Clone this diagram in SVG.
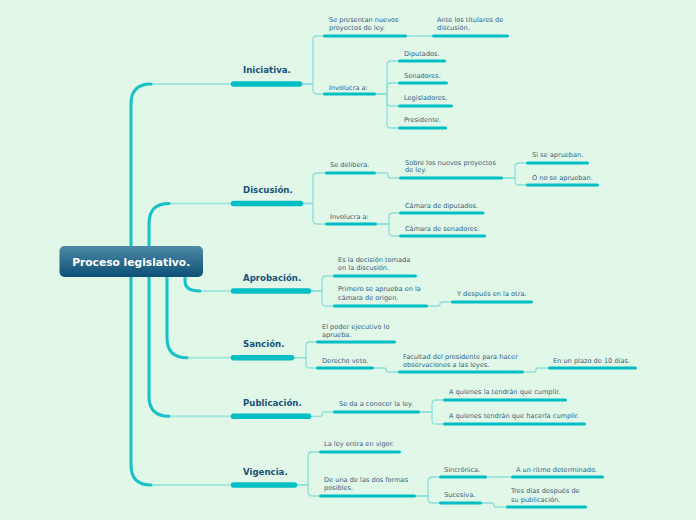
<svg xmlns="http://www.w3.org/2000/svg" width="696" height="520" viewBox="0 0 696 520">
<defs>
<linearGradient id="cg" x1="0" y1="0" x2="0" y2="1">
<stop offset="0" stop-color="#4f89a6"/>
<stop offset="1" stop-color="#0c5077"/>
</linearGradient>
</defs>
<style>
.trunk{fill:none;stroke:#16c1c7;stroke-width:3;stroke-linecap:round}
.mh{fill:none;stroke:#a2e8df;stroke-width:2;stroke-linecap:round}
.c{fill:none;stroke:#8ddfd9;stroke-width:1.3;stroke-linecap:round}
.mb{stroke:#00bec4;stroke-width:5.5;stroke-linecap:round}
.sb{stroke:#00bec4;stroke-width:3;stroke-linecap:round}
.mt{font-family:"DejaVu Sans",Verdana,sans-serif;font-weight:bold;font-size:8.6px;fill:#17527a}
.st{font-family:"DejaVu Sans",Verdana,sans-serif;font-size:6.6px;fill:#33637f}
.ct{font-family:"DejaVu Sans",Verdana,sans-serif;font-weight:bold;font-size:10.7px;fill:#ffffff}
</style>
<rect width="696" height="520" fill="#e1f7e8"/>
<g id="connectors">
<path class="mh" d="M151 84 H231"/>
<path class="mh" d="M169 203.5 H231"/>
<path class="mh" d="M200 291 H231"/>
<path class="mh" d="M187 357.7 H231"/>
<path class="mh" d="M169 416.3 H231"/>
<path class="mh" d="M151 485 H231"/>
<path class="trunk" d="M131 262 V104 Q131 84 151 84"/>
<path class="trunk" d="M149 262 V223.5 Q149 203.5 169 203.5"/>
<path class="trunk" d="M185 272 V281 Q185 291 200 291"/>
<path class="trunk" d="M167 262 V337.7 Q167 357.7 187 357.7"/>
<path class="trunk" d="M149 262 V396.3 Q149 416.3 169 416.3"/>
<path class="trunk" d="M131 262 V465 Q131 485 151 485"/>
<!-- Iniciativa -->
<path class="c" d="M302 84 H313 V40 Q313 36 317 36 H323"/>
<path class="c" d="M302 84 H313 V90 Q313 94 317 94 H323"/>
<path class="c" d="M407 36 H432"/>
<path class="c" d="M376 94 H387 V65 Q387 61 391 61 H398"/>
<path class="c" d="M376 94 H387 V87 Q387 83 391 83 H398"/>
<path class="c" d="M376 94 H387 V102 Q387 106 391 106 H398"/>
<path class="c" d="M376 94 H387 V124 Q387 128 391 128 H398"/>
<!-- Discusion -->
<path class="c" d="M303 203.5 H313 V177 Q313 173 317 173 H325"/>
<path class="c" d="M303 203.5 H313 V220 Q313 224 317 224 H325"/>
<path class="c" d="M376 173 H386 Q388 173 388 175.5 Q388 178 390 178 H399"/>
<path class="c" d="M503 178 H515 V167 Q515 163 519 163 H526"/>
<path class="c" d="M503 178 H515 V181 Q515 185 519 185 H526"/>
<path class="c" d="M377 224 H389 V217 Q389 213 393 213 H399"/>
<path class="c" d="M377 224 H389 V232 Q389 236 393 236 H399"/>
<!-- Aprobacion -->
<path class="c" d="M311 291 H322 V280 Q322 276 326 276 H333"/>
<path class="c" d="M311 291 H322 V302 Q322 306 326 306 H333"/>
<path class="c" d="M428 306 H438 Q440 306 440 304 Q440 302 442 302 H451"/>
<!-- Sancion -->
<path class="c" d="M294 357.7 H306 V346 Q306 342 310 342 H316"/>
<path class="c" d="M294 357.7 H306 V364 Q306 368 310 368 H316"/>
<path class="c" d="M374 368 H384 Q386 368 386 370 Q386 372 388 372 H398"/>
<path class="c" d="M524 372 H534 Q536 372 536 370 Q536 368 538 368 H548"/>
<!-- Publicacion -->
<path class="c" d="M311 416.3 H320 Q322 416.3 322 414 Q322 412 324 412 H333"/>
<path class="c" d="M420 412 H432 V404 Q432 400 436 400 H443"/>
<path class="c" d="M420 412 H432 V420 Q432 424 436 424 H443"/>
<!-- Vigencia -->
<path class="c" d="M297 485 H308 V456 Q308 452 312 452 H319"/>
<path class="c" d="M297 485 H308 V492 Q308 496 312 496 H319"/>
<path class="c" d="M416 496 H428 V481 Q428 477 432 477 H439"/>
<path class="c" d="M416 496 H428 V499 Q428 503 432 503 H439"/>
<path class="c" d="M487 477 H511"/>
<path class="c" d="M482 503 H492 Q494 503 494 505 Q494 507 496 507 H506"/>
</g>
<g id="root">
<rect x="59.5" y="246" width="143.5" height="31" rx="5" fill="url(#cg)"/>
<text class="ct" x="131.2" y="266.3" text-anchor="middle">Proceso legislativo.</text>
</g>
<g id="iniciativa">
<line class="mb" x1="233.5" y1="84" x2="299.5" y2="84"/>
<text class="mt" x="243" y="73">Iniciativa.</text>
</g>
<g id="se-presentan">
<line class="sb" x1="324.5" y1="36" x2="405.5" y2="36"/>
<text class="st" x="329" y="21.5">Se presentan nuevos</text>
<text class="st" x="329" y="30.2">proyectos de ley.</text>
</g>
<g id="ante-titulares">
<line class="sb" x1="433.5" y1="36" x2="507.5" y2="36"/>
<text class="st" x="437" y="21.5">Ante los titulares de</text>
<text class="st" x="437" y="30.2">discusión.</text>
</g>
<g id="involucra-1">
<line class="sb" x1="324.5" y1="94" x2="374.5" y2="94"/>
<text class="st" x="329" y="89.5">Involucra a:</text>
</g>
<g id="diputados">
<line class="sb" x1="399.5" y1="61" x2="444.5" y2="61"/>
<text class="st" x="404" y="55.5">Diputados.</text>
</g>
<g id="senadores">
<line class="sb" x1="399.5" y1="83" x2="446.5" y2="83"/>
<text class="st" x="404" y="77.8">Senadores.</text>
</g>
<g id="legisladores">
<line class="sb" x1="399.5" y1="106" x2="451.5" y2="106"/>
<text class="st" x="404" y="100">Legisladores.</text>
</g>
<g id="presidente">
<line class="sb" x1="399.5" y1="128" x2="445.5" y2="128"/>
<text class="st" x="404" y="122.3">Presidente.</text>
</g>
<g id="discusion">
<line class="mb" x1="233.5" y1="203.5" x2="300.5" y2="203.5"/>
<text class="mt" x="243" y="193">Discusión.</text>
</g>
<g id="se-delibera">
<line class="sb" x1="326.5" y1="173" x2="374.5" y2="173"/>
<text class="st" x="330" y="167.2">Se delibera.</text>
</g>
<g id="sobre-proyectos">
<line class="sb" x1="400.5" y1="178" x2="501.5" y2="178"/>
<text class="st" x="405" y="164.5">Sobre los nuevos proyectos</text>
<text class="st" x="405" y="172.3">de ley.</text>
</g>
<g id="si-aprueban">
<line class="sb" x1="527.5" y1="163" x2="587.5" y2="163"/>
<text class="st" x="532" y="157.2">Si se aprueban.</text>
</g>
<g id="no-aprueban">
<line class="sb" x1="527.5" y1="185" x2="597.5" y2="185"/>
<text class="st" x="532" y="179.5">O no se aprueban.</text>
</g>
<g id="involucra-2">
<line class="sb" x1="326.5" y1="224" x2="375.5" y2="224"/>
<text class="st" x="330" y="219">Involucra a:</text>
</g>
<g id="camara-diputados">
<line class="sb" x1="400.5" y1="213" x2="483" y2="213"/>
<text class="st" x="405" y="207.5">Cámara de diputados.</text>
</g>
<g id="camara-senadores">
<line class="sb" x1="400.5" y1="236" x2="484.5" y2="236"/>
<text class="st" x="405" y="231.2">Cámara de senadores.</text>
</g>
<g id="aprobacion">
<line class="mb" x1="233.5" y1="291" x2="308.5" y2="291"/>
<text class="mt" x="243" y="280.5">Aprobación.</text>
</g>
<g id="decision">
<line class="sb" x1="334.5" y1="276" x2="415.5" y2="276"/>
<text class="st" x="338" y="262.2">Es la decisión tomada</text>
<text class="st" x="338" y="270">en la discusión.</text>
</g>
<g id="primero">
<line class="sb" x1="334.5" y1="306" x2="426.5" y2="306"/>
<text class="st" x="338" y="291.2">Primero se aprueba en la</text>
<text class="st" x="338" y="299.5">cámara de origen.</text>
</g>
<g id="despues">
<line class="sb" x1="452.5" y1="302" x2="531.5" y2="302"/>
<text class="st" x="457" y="295.5">Y después en la otra.</text>
</g>
<g id="sancion">
<line class="mb" x1="233.5" y1="357.7" x2="291.5" y2="357.7"/>
<text class="mt" x="243" y="347">Sanción.</text>
</g>
<g id="poder-ejecutivo">
<line class="sb" x1="317.5" y1="342" x2="394.5" y2="342"/>
<text class="st" x="322" y="329">El poder ejecutivo lo</text>
<text class="st" x="322" y="336.5">aprueba.</text>
</g>
<g id="veto">
<line class="sb" x1="317.5" y1="368" x2="372.5" y2="368"/>
<text class="st" x="322" y="363">Derecho veto.</text>
</g>
<g id="facultad">
<line class="sb" x1="399.5" y1="372" x2="522.5" y2="372"/>
<text class="st" x="403" y="358.8">Facultad del presidente para hacer</text>
<text class="st" x="403" y="366.5">observaciones a las leyes.</text>
</g>
<g id="plazo">
<line class="sb" x1="549.5" y1="368" x2="635.5" y2="368"/>
<text class="st" x="553" y="363">En un plazo de 10 días.</text>
</g>
<g id="publicacion">
<line class="mb" x1="233.5" y1="416.3" x2="308.5" y2="416.3"/>
<text class="mt" x="243" y="405.5">Publicación.</text>
</g>
<g id="se-da">
<line class="sb" x1="334.5" y1="412" x2="418.5" y2="412"/>
<text class="st" x="339" y="406">Se da a conocer la ley.</text>
</g>
<g id="cumplir">
<line class="sb" x1="444.5" y1="400" x2="565.5" y2="400"/>
<text class="st" x="449" y="394">A quienes la tendrán que cumplir.</text>
</g>
<g id="hacerla-cumplir">
<line class="sb" x1="444.5" y1="424" x2="584.5" y2="424"/>
<text class="st" x="449" y="418">A quienes tendrán que hacerla cumplir.</text>
</g>
<g id="vigencia">
<line class="mb" x1="233.5" y1="485" x2="294.5" y2="485"/>
<text class="mt" x="243" y="475">Vigencia.</text>
</g>
<g id="entra-vigor">
<line class="sb" x1="320.5" y1="452" x2="399.5" y2="452"/>
<text class="st" x="324" y="445.5">La ley entra en vigor.</text>
</g>
<g id="dos-formas">
<line class="sb" x1="320.5" y1="496" x2="414.5" y2="496"/>
<text class="st" x="324" y="482">De una de las dos formas</text>
<text class="st" x="324" y="489.5">posibles.</text>
</g>
<g id="sincronica">
<line class="sb" x1="440.5" y1="477" x2="485.5" y2="477"/>
<text class="st" x="444" y="471.5">Sincrónica.</text>
</g>
<g id="ritmo">
<line class="sb" x1="512.5" y1="477" x2="602.5" y2="477"/>
<text class="st" x="516" y="471.5">A un ritmo determinado.</text>
</g>
<g id="sucesiva">
<line class="sb" x1="440.5" y1="503" x2="480.5" y2="503"/>
<text class="st" x="444" y="497.2">Sucesiva.</text>
</g>
<g id="tres-dias">
<line class="sb" x1="507.5" y1="507" x2="585.5" y2="507"/>
<text class="st" x="511" y="493.2">Tres días después de</text>
<text class="st" x="511" y="501.5">su publicación.</text>
</g>
</svg>
